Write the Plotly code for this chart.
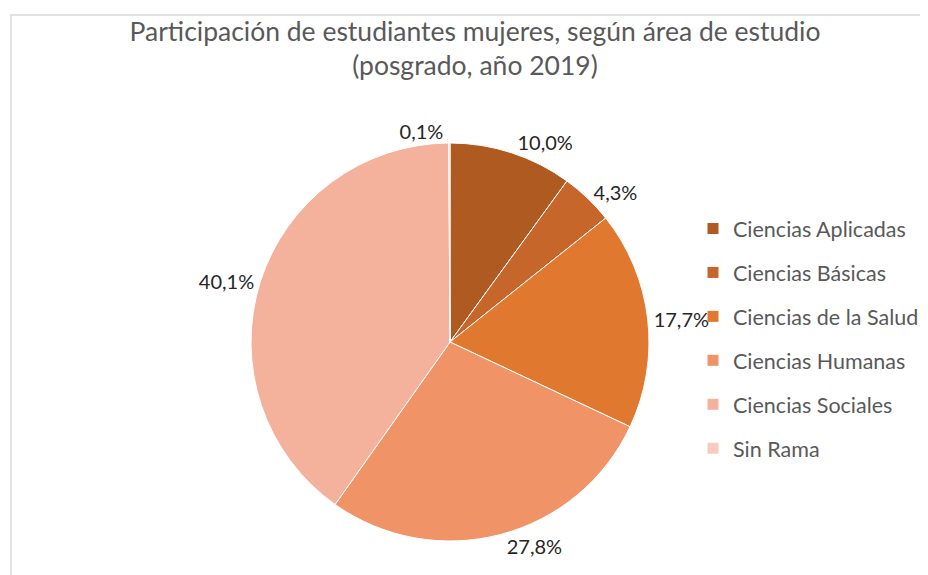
import plotly.graph_objects as go

categories = ["Ciencias Aplicadas", "Ciencias Básicas", "Ciencias de la Salud",
              "Ciencias Humanas", "Ciencias Sociales", "Sin Rama"]
values = [10.0, 4.3, 17.7, 27.8, 40.1, 0.1]
colors = ["#AE5A21", "#C6662A", "#E07830", "#F09366", "#F4B29C", "#F8CBBD"]

title_text = "Participación de estudiantes mujeres, según área de estudio<br>(posgrado, año 2019)"

W, H = 928, 575
cx, cy, r = 442, 334, 199

fig = go.Figure()
fig.add_trace(go.Pie(
    labels=categories, values=values, sort=False, direction="clockwise", rotation=0,
    marker=dict(colors=colors, line=dict(color="white", width=1)),
    textposition="outside", texttemplate="%{percent:.1%}",
    textfont=dict(family="Lato", size=20, color="#262626"),
    showlegend=False, hoverinfo="label+percent",
    domain=dict(x=[(cx - r) / W, (cx + r) / W], y=[1 - (cy + r) / H, 1 - (cy - r) / H]),
))

for i, (cat, col) in enumerate(zip(categories, colors)):
    fig.add_trace(go.Scatter(
        x=[None], y=[None], mode="markers", name=cat, legendgroup=f"g{i}",
        marker=dict(symbol="square", size=11, color=col),
        showlegend=True,
    ))

fig.update_layout(
    width=W, height=H,
    margin=dict(l=0, r=0, t=0, b=0),
    paper_bgcolor="white", plot_bgcolor="white",
    separators=",.",
    title=dict(text=title_text, x=467 / W, xanchor="center", y=1 - 33 / H, yanchor="top",
               font=dict(family="Lato", size=26.5, color="#595959")),
    xaxis=dict(visible=False), yaxis=dict(visible=False),
    legend=dict(x=685 / W, xanchor="left", y=1 - 200 / H, yanchor="top",
                traceorder="grouped", tracegroupgap=13,
                font=dict(family="Lato", size=21.5, color="#595959"),
                itemwidth=30, bgcolor="rgba(0,0,0,0)"),
    shapes=[dict(type="rect", xref="paper", yref="paper", x0=3 / W, x1=1.05,
                 y0=-0.05, y1=1 - 7 / H, line=dict(color="#D9D9D9", width=1.5))],
)

fig.write_html("out.html")
